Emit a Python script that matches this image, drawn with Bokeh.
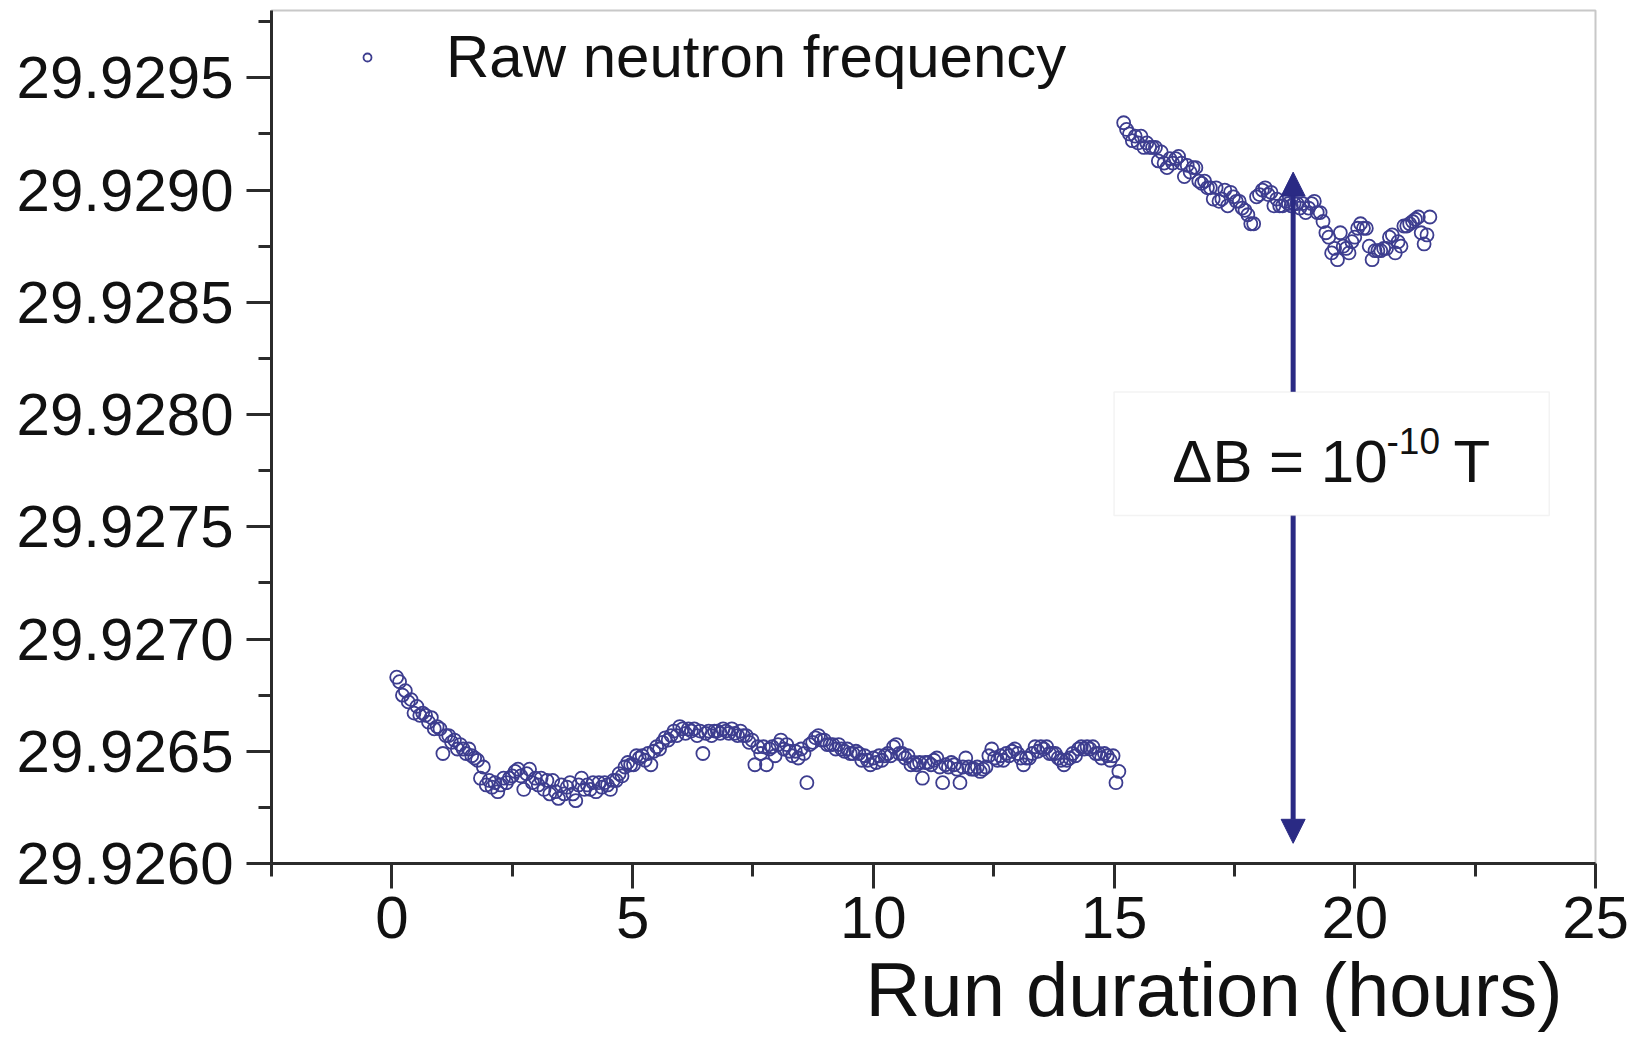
from bokeh.plotting import figure
from bokeh.models import (Range1d, FixedTicker, PrintfTickFormatter, Legend, LegendItem,
                          Arrow, NormalHead, BoxAnnotation, Label, Title)
from bokeh.embed import file_html
from bokeh.resources import INLINE

# ---------------- data ----------------
hours_run1 = [
    0.10, 0.16, 0.22, 0.28, 0.34, 0.40, 0.46, 0.52, 0.58, 0.64,
    0.70, 0.76, 0.82, 0.88, 0.94, 1.00, 1.06, 1.12, 1.18, 1.24,
    1.30, 1.36, 1.42, 1.48, 1.54, 1.60, 1.66, 1.72, 1.78, 1.84,
    1.90, 1.96, 2.02, 2.08, 2.14, 2.20, 2.26, 2.32, 2.38, 2.44,
    2.50, 2.56, 2.62, 2.68, 2.74, 2.80, 2.86, 2.92, 2.98, 3.04,
    3.10, 3.16, 3.22, 3.28, 3.34, 3.40, 3.46, 3.52, 3.58, 3.64,
    3.70, 3.76, 3.82, 3.88, 3.94, 4.00, 4.06, 4.12, 4.18, 4.24,
    4.30, 4.36, 4.42, 4.48, 4.54, 4.60, 4.66, 4.72, 4.78, 4.84,
    4.90, 4.96, 5.02, 5.08, 5.14, 5.20, 5.26, 5.32, 5.38, 5.44,
    5.50, 5.56, 5.62, 5.68, 5.74, 5.80, 5.86, 5.92, 5.98, 6.04,
    6.10, 6.16, 6.22, 6.28, 6.34, 6.40, 6.46, 6.52, 6.58, 6.64,
    6.70, 6.76, 6.82, 6.88, 6.94, 7.00, 7.06, 7.12, 7.18, 7.24,
    7.30, 7.36, 7.42, 7.48, 7.54, 7.60, 7.66, 7.72, 7.78, 7.84,
    7.90, 7.96, 8.02, 8.08, 8.14, 8.20, 8.26, 8.32, 8.38, 8.44,
    8.50, 8.56, 8.62, 8.68, 8.74, 8.80, 8.86, 8.92, 8.98, 9.04,
    9.10, 9.16, 9.22, 9.28, 9.34, 9.40, 9.46, 9.52, 9.58, 9.64,
    9.70, 9.76, 9.82, 9.88, 9.94, 10.00, 10.06, 10.12, 10.18, 10.24,
    10.30, 10.36, 10.42, 10.48, 10.54, 10.60, 10.66, 10.72, 10.78, 10.84,
    10.90, 10.96, 11.02, 11.08, 11.14, 11.20, 11.26, 11.32, 11.38, 11.44,
    11.50, 11.56, 11.62, 11.68, 11.74, 11.80, 11.86, 11.92, 11.98, 12.04,
    12.10, 12.16, 12.22, 12.28, 12.34, 12.40, 12.46, 12.52, 12.58, 12.64,
    12.70, 12.76, 12.82, 12.88, 12.94, 13.00, 13.06, 13.12, 13.18, 13.24,
    13.30, 13.36, 13.42, 13.48, 13.54, 13.60, 13.66, 13.72, 13.78, 13.84,
    13.90, 13.96, 14.02, 14.08, 14.14, 14.20, 14.26, 14.32, 14.38, 14.44,
    14.50, 14.56, 14.62, 14.68, 14.74, 14.80, 14.86, 14.92, 14.98, 15.04,
    15.10,
]
freq_run1 = [
    29.92683, 29.92681, 29.92675, 29.92677, 29.92672, 29.92673, 29.92667, 29.92670, 29.92666, 29.92667,
    29.92666, 29.92663, 29.92665, 29.92660, 29.92661, 29.92660, 29.92649, 29.92657, 29.92657, 29.92654,
    29.92655, 29.92651, 29.92653, 29.92651, 29.92649, 29.92651, 29.92648, 29.92647, 29.92646, 29.92638,
    29.92643, 29.92635, 29.92637, 29.92634, 29.92636, 29.92632, 29.92635, 29.92638, 29.92636, 29.92638,
    29.92639, 29.92641, 29.92642, 29.92639, 29.92633, 29.92640, 29.92642, 29.92636, 29.92638, 29.92635,
    29.92638, 29.92633, 29.92637, 29.92631, 29.92637, 29.92632, 29.92629, 29.92635, 29.92631, 29.92634,
    29.92636, 29.92631, 29.92628, 29.92635, 29.92638, 29.92633, 29.92635, 29.92633, 29.92636, 29.92632,
    29.92636, 29.92634, 29.92636, 29.92635, 29.92633, 29.92637, 29.92637, 29.92640, 29.92639, 29.92643,
    29.92645, 29.92644, 29.92644, 29.92648, 29.92647, 29.92648, 29.92646, 29.92649, 29.92644, 29.92650,
    29.92652, 29.92651, 29.92654, 29.92656, 29.92655, 29.92657, 29.92659, 29.92657, 29.92661, 29.92660,
    29.92658, 29.92660, 29.92659, 29.92660, 29.92657, 29.92659, 29.92649, 29.92658, 29.92659, 29.92657,
    29.92659, 29.92659, 29.92658, 29.92660, 29.92659, 29.92658, 29.92660, 29.92658, 29.92657, 29.92659,
    29.92657, 29.92657, 29.92654, 29.92655, 29.92644, 29.92652, 29.92649, 29.92652, 29.92644, 29.92651,
    29.92652, 29.92648, 29.92653, 29.92655, 29.92651, 29.92653, 29.92650, 29.92648, 29.92650, 29.92647,
    29.92651, 29.92649, 29.92636, 29.92653, 29.92654, 29.92656, 29.92657, 29.92655, 29.92655, 29.92653,
    29.92653, 29.92653, 29.92651, 29.92653, 29.92651, 29.92650, 29.92651, 29.92649, 29.92649, 29.92650,
    29.92649, 29.92646, 29.92648, 29.92646, 29.92644, 29.92647, 29.92645, 29.92648, 29.92646, 29.92648,
    29.92649, 29.92648, 29.92652, 29.92653, 29.92649, 29.92649, 29.92647, 29.92648, 29.92644, 29.92645,
    29.92644, 29.92645, 29.92638, 29.92645, 29.92645, 29.92644, 29.92646, 29.92647, 29.92643, 29.92636,
    29.92644, 29.92643, 29.92645, 29.92644, 29.92642, 29.92636, 29.92643, 29.92647, 29.92643, 29.92642,
    29.92642, 29.92643, 29.92641, 29.92642, 29.92643, 29.92648, 29.92651, 29.92647, 29.92646, 29.92648,
    29.92646, 29.92649, 29.92648, 29.92650, 29.92651, 29.92649, 29.92647, 29.92644, 29.92647, 29.92647,
    29.92649, 29.92652, 29.92650, 29.92652, 29.92651, 29.92652, 29.92649, 29.92649, 29.92649, 29.92647,
    29.92646, 29.92644, 29.92646, 29.92647, 29.92649, 29.92648, 29.92651, 29.92652, 29.92651, 29.92652,
    29.92651, 29.92652, 29.92649, 29.92649, 29.92647, 29.92649, 29.92648, 29.92646, 29.92648, 29.92636,
    29.92641,
]

hours_run2 = [
    15.20, 15.26, 15.32, 15.38, 15.44, 15.50, 15.56, 15.62, 15.68, 15.74,
    15.80, 15.86, 15.92, 15.98, 16.04, 16.10, 16.16, 16.22, 16.28, 16.34,
    16.40, 16.46, 16.52, 16.58, 16.64, 16.70, 16.76, 16.82, 16.88, 16.94,
    17.00, 17.06, 17.12, 17.18, 17.24, 17.30, 17.36, 17.42, 17.48, 17.54,
    17.60, 17.66, 17.72, 17.78, 17.84, 17.90, 17.96, 18.02, 18.08, 18.14,
    18.20, 18.26, 18.32, 18.38, 18.44, 18.50, 18.56, 18.62, 18.68, 18.74,
    18.80, 18.86, 18.92, 18.98, 19.04, 19.10, 19.16, 19.22, 19.28, 19.34,
    19.40, 19.46, 19.52, 19.58, 19.64, 19.70, 19.76, 19.82, 19.88, 19.94,
    20.00, 20.06, 20.12, 20.18, 20.24, 20.30, 20.36, 20.42, 20.48, 20.54,
    20.60, 20.66, 20.72, 20.78, 20.84, 20.90, 20.96, 21.02, 21.08, 21.14,
    21.20, 21.26, 21.32, 21.38, 21.44, 21.50, 21.56,
]
freq_run2 = [
    29.92930, 29.92927, 29.92925, 29.92922, 29.92924, 29.92921, 29.92924, 29.92919, 29.92921, 29.92919,
    29.92919, 29.92919, 29.92913, 29.92917, 29.92912, 29.92910, 29.92914, 29.92912, 29.92914, 29.92915,
    29.92912, 29.92906, 29.92911, 29.92908, 29.92910, 29.92910, 29.92904, 29.92903, 29.92904, 29.92901,
    29.92901, 29.92896, 29.92901, 29.92895, 29.92896, 29.92900, 29.92893, 29.92899, 29.92897, 29.92895,
    29.92895, 29.92892, 29.92891, 29.92889, 29.92885, 29.92885, 29.92897, 29.92898, 29.92900, 29.92901,
    29.92898, 29.92899, 29.92893, 29.92896, 29.92893, 29.92893, 29.92895, 29.92894, 29.92893, 29.92894,
    29.92894, 29.92892, 29.92894, 29.92890, 29.92892, 29.92894, 29.92895, 29.92890, 29.92890, 29.92886,
    29.92881, 29.92879, 29.92872, 29.92874, 29.92869, 29.92881, 29.92875, 29.92874, 29.92872, 29.92877,
    29.92879, 29.92883, 29.92885, 29.92883, 29.92883, 29.92875, 29.92869, 29.92873, 29.92873, 29.92873,
    29.92874, 29.92874, 29.92879, 29.92880, 29.92872, 29.92877, 29.92875, 29.92884, 29.92884, 29.92885,
    29.92886, 29.92887, 29.92888, 29.92881, 29.92876, 29.92880, 29.92888,
]

x_major_ticks = [0, 5, 10, 15, 20, 25]
x_minor_ticks = [-2.5, 2.5, 7.5, 12.5, 17.5, 22.5]
y_major_ticks = [29.9260, 29.9265, 29.9270, 29.9275, 29.9280, 29.9285, 29.9290, 29.9295]
y_minor_ticks = [29.92625, 29.92675, 29.92725, 29.92775, 29.92825, 29.92875, 29.92925, 29.92975]

series_label = "Raw neutron frequency"
x_title = "Run duration (hours)"

# ΔB arrow (hours, Hz) and annotation box
arrow_hour = 18.72
arrow_low = 29.92609
arrow_high = 29.92908
box_left, box_right = 15.0, 24.04
box_bottom, box_top = 29.92755, 29.92810

# ---------------- styling ----------------
FONT = "Liberation Sans"
MARK = "#3d3d8f"
ARROW = "#2a2a84"
AX = "#2b2b2b"

p = figure(width=1641, height=1038, output_backend="svg", toolbar_location=None,
           x_range=Range1d(-2.5, 25), y_range=Range1d(29.9260, 29.9298),
           min_border_left=271, min_border_right=46, min_border_top=10,
           min_border_bottom=175, background_fill_color="white",
           border_fill_color="white")
p.grid.visible = False
p.outline_line_color = "#c8c8c8"
p.outline_line_width = 2

r1 = p.scatter(hours_run1, freq_run1, marker="circle", size=13,
               fill_color=None, line_color=MARK, line_width=1.8)
r2 = p.scatter(hours_run2, freq_run2, marker="circle", size=13,
               fill_color=None, line_color=MARK, line_width=1.8)

for ax in (p.xaxis[0], p.yaxis[0]):
    ax.axis_line_color = AX
    ax.axis_line_width = 3
    ax.major_tick_line_color = AX
    ax.major_tick_line_width = 3
    ax.minor_tick_line_color = AX
    ax.minor_tick_line_width = 3
    ax.major_tick_out = 25
    ax.major_tick_in = 0
    ax.minor_tick_out = 13
    ax.minor_tick_in = 0
    ax.major_label_text_font = FONT
    ax.major_label_text_font_size = "60px"
    ax.major_label_text_color = "#111111"

p.xaxis.ticker = FixedTicker(ticks=x_major_ticks, minor_ticks=x_minor_ticks)
p.yaxis.ticker = FixedTicker(ticks=y_major_ticks, minor_ticks=y_minor_ticks)
p.yaxis.formatter = PrintfTickFormatter(format="%.4f")
p.xaxis.major_label_standoff = 8
p.yaxis.major_label_standoff = 13

legend = Legend(items=[LegendItem(label=series_label, renderers=[r1])],
                location=(86, 772), padding=0, margin=0,
                border_line_alpha=0, background_fill_alpha=0,
                glyph_width=20, glyph_height=20, label_standoff=69,
                label_text_font=FONT, label_text_font_size="60px",
                label_text_color="#111111")
p.add_layout(legend)

# double-headed arrow, then the box that hides its middle
p.add_layout(Arrow(x_start=arrow_hour, y_start=arrow_low, x_end=arrow_hour, y_end=arrow_high,
                   line_color=ARROW, line_width=5,
                   start=NormalHead(size=24, fill_color=ARROW, line_color=ARROW),
                   end=NormalHead(size=24, fill_color=ARROW, line_color=ARROW)))
p.add_layout(BoxAnnotation(left=box_left, right=box_right, bottom=box_bottom, top=box_top,
                           fill_color="white", fill_alpha=1.0,
                           line_color="#d8d8d8", line_width=1.5))

p.add_layout(Label(x=16.21, y=29.92779, text="\u0394B = 10", text_font=FONT,
                   text_font_size="60px", text_color="#111111",
                   text_align="left", text_baseline="alphabetic"))
p.add_layout(Label(x=20.66, y=29.92788, text="-10", text_font=FONT,
                   text_font_size="37px", text_color="#111111",
                   text_align="left", text_baseline="alphabetic"))
p.add_layout(Label(x=22.05, y=29.92779, text="T", text_font=FONT,
                   text_font_size="60px", text_color="#111111",
                   text_align="left", text_baseline="alphabetic"))

# x-axis title, right-aligned under the axis as in the original
p.add_layout(Title(text=x_title, align="right", offset=33, standoff=9,
                   text_font=FONT, text_font_size="76px", text_font_style="normal",
                   text_color="#111111"), "below")

open("out.html", "w").write(file_html(p, INLINE))
